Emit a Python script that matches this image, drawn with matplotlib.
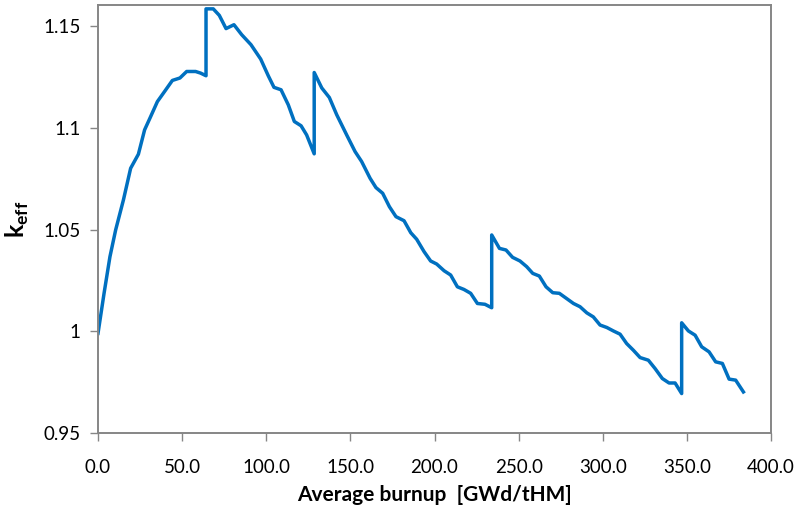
import matplotlib
matplotlib.use("Agg")
import matplotlib.pyplot as plt
import numpy as np

# burnup steps [GWd/tHM] and k_eff, four reload cycles (jumps at reload)
burnup = [0.0, 3.6, 7.1, 10.5, 15.1, 19.4, 24.0, 27.7, 30.9, 35.3, 39.6, 44.2,
          48.7, 52.7, 58.0, 61.0, 64.2,
          64.2, 68.5, 72.1, 76.1, 80.8, 85.4, 90.9, 96.7, 101.2, 104.6, 108.8,
          113.1, 116.7, 120.7, 124.0, 128.5,
          128.5, 133.0, 137.5, 141.9, 147.8, 152.8, 156.7, 161.7, 165.2, 169.2,
          173.2, 177.1, 181.9, 185.9, 189.4, 193.8, 197.7, 201.3, 205.7, 209.6,
          213.6, 217.5, 221.5, 225.5, 230.0, 234.0,
          234.0, 238.6, 242.5, 246.4, 250.8, 254.8, 258.4, 262.3, 266.3, 270.3,
          274.2, 278.4, 282.6, 286.5, 290.5, 294.4, 298.4, 302.4, 306.3, 310.3,
          314.2, 318.2, 322.2, 327.1, 331.1, 335.4, 339.4, 343.0, 346.9,
          346.9, 350.9, 354.9, 358.8, 363.2, 367.1, 371.1, 375.1, 379.0, 383.6]
keff = [0.9990, 1.0187, 1.0367, 1.0499, 1.0646, 1.0802, 1.0871, 1.0991, 1.1049,
        1.1130, 1.1180, 1.1234, 1.1246, 1.1278, 1.1278, 1.1270, 1.1257,
        1.1586, 1.1586, 1.1554, 1.1489, 1.1508, 1.1459, 1.1410, 1.1339, 1.1257,
        1.1200, 1.1188, 1.1114, 1.1032, 1.1011, 1.0966, 1.0873,
        1.1273, 1.1197, 1.1150, 1.1065, 1.0966, 1.0884, 1.0835, 1.0753, 1.0707,
        1.0679, 1.0613, 1.0564, 1.0544, 1.0485, 1.0453, 1.0392, 1.0346, 1.0331,
        1.0298, 1.0277, 1.0219, 1.0206, 1.0187, 1.0137, 1.0133, 1.0116,
        1.0474, 1.0408, 1.0400, 1.0364, 1.0346, 1.0318, 1.0285, 1.0272, 1.0219,
        1.0190, 1.0187, 1.0162, 1.0137, 1.0121, 1.0091, 1.0071, 1.0031, 1.0019,
        1.0002, 0.9986, 0.9940, 0.9907, 0.9871, 0.9858, 0.9817, 0.9768, 0.9746,
        0.9746, 0.9694,
        1.0042, 1.0002, 0.9981, 0.9924, 0.9899, 0.9850, 0.9842, 0.9765, 0.9760,
        0.9702]

xticks = np.arange(0, 401, 50)
yticks = [0.95, 1.0, 1.05, 1.1, 1.15]
ytick_labels = ["0.95", "1", "1.05", "1.1", "1.15"]

plt.rcParams['font.family'] = ['Lato', 'DejaVu Sans']
plt.rcParams['mathtext.fontset'] = 'custom'
plt.rcParams['mathtext.rm'] = 'Lato'
plt.rcParams['mathtext.bf'] = 'Lato:bold'

gray = '#868686'
fig = plt.figure(figsize=(7.99, 5.14), dpi=100)
ax = fig.add_axes([98 / 799, 81 / 514, 673 / 799, 428 / 514])

ax.plot(burnup, keff, color='#0070C0', lw=2.5, solid_joinstyle='round')

ax.set_xlim(0, 400)
ax.set_ylim(0.95, 1.1605)
ax.set_xticks(xticks)
ax.set_xticklabels([f"{v:.1f}" for v in xticks])
ax.set_yticks(yticks)
ax.set_yticklabels(ytick_labels)

for sp in ax.spines.values():
    sp.set_color(gray)
    sp.set_linewidth(1.4)
ax.tick_params(direction='out', length=5.5, width=1.0, color=gray,
               labelsize=13.5, labelcolor='black')
ax.tick_params(axis='x', pad=13)
ax.tick_params(axis='y', pad=7)

ax.set_xlabel("Average burnup  [GWd/tHM]", fontsize=15, fontweight='bold',
              labelpad=7)
ax.set_ylabel(r"$\mathbf{k}_{\mathbf{eff}}$", fontsize=18, labelpad=9)

fig.savefig("out.png", dpi=100)
